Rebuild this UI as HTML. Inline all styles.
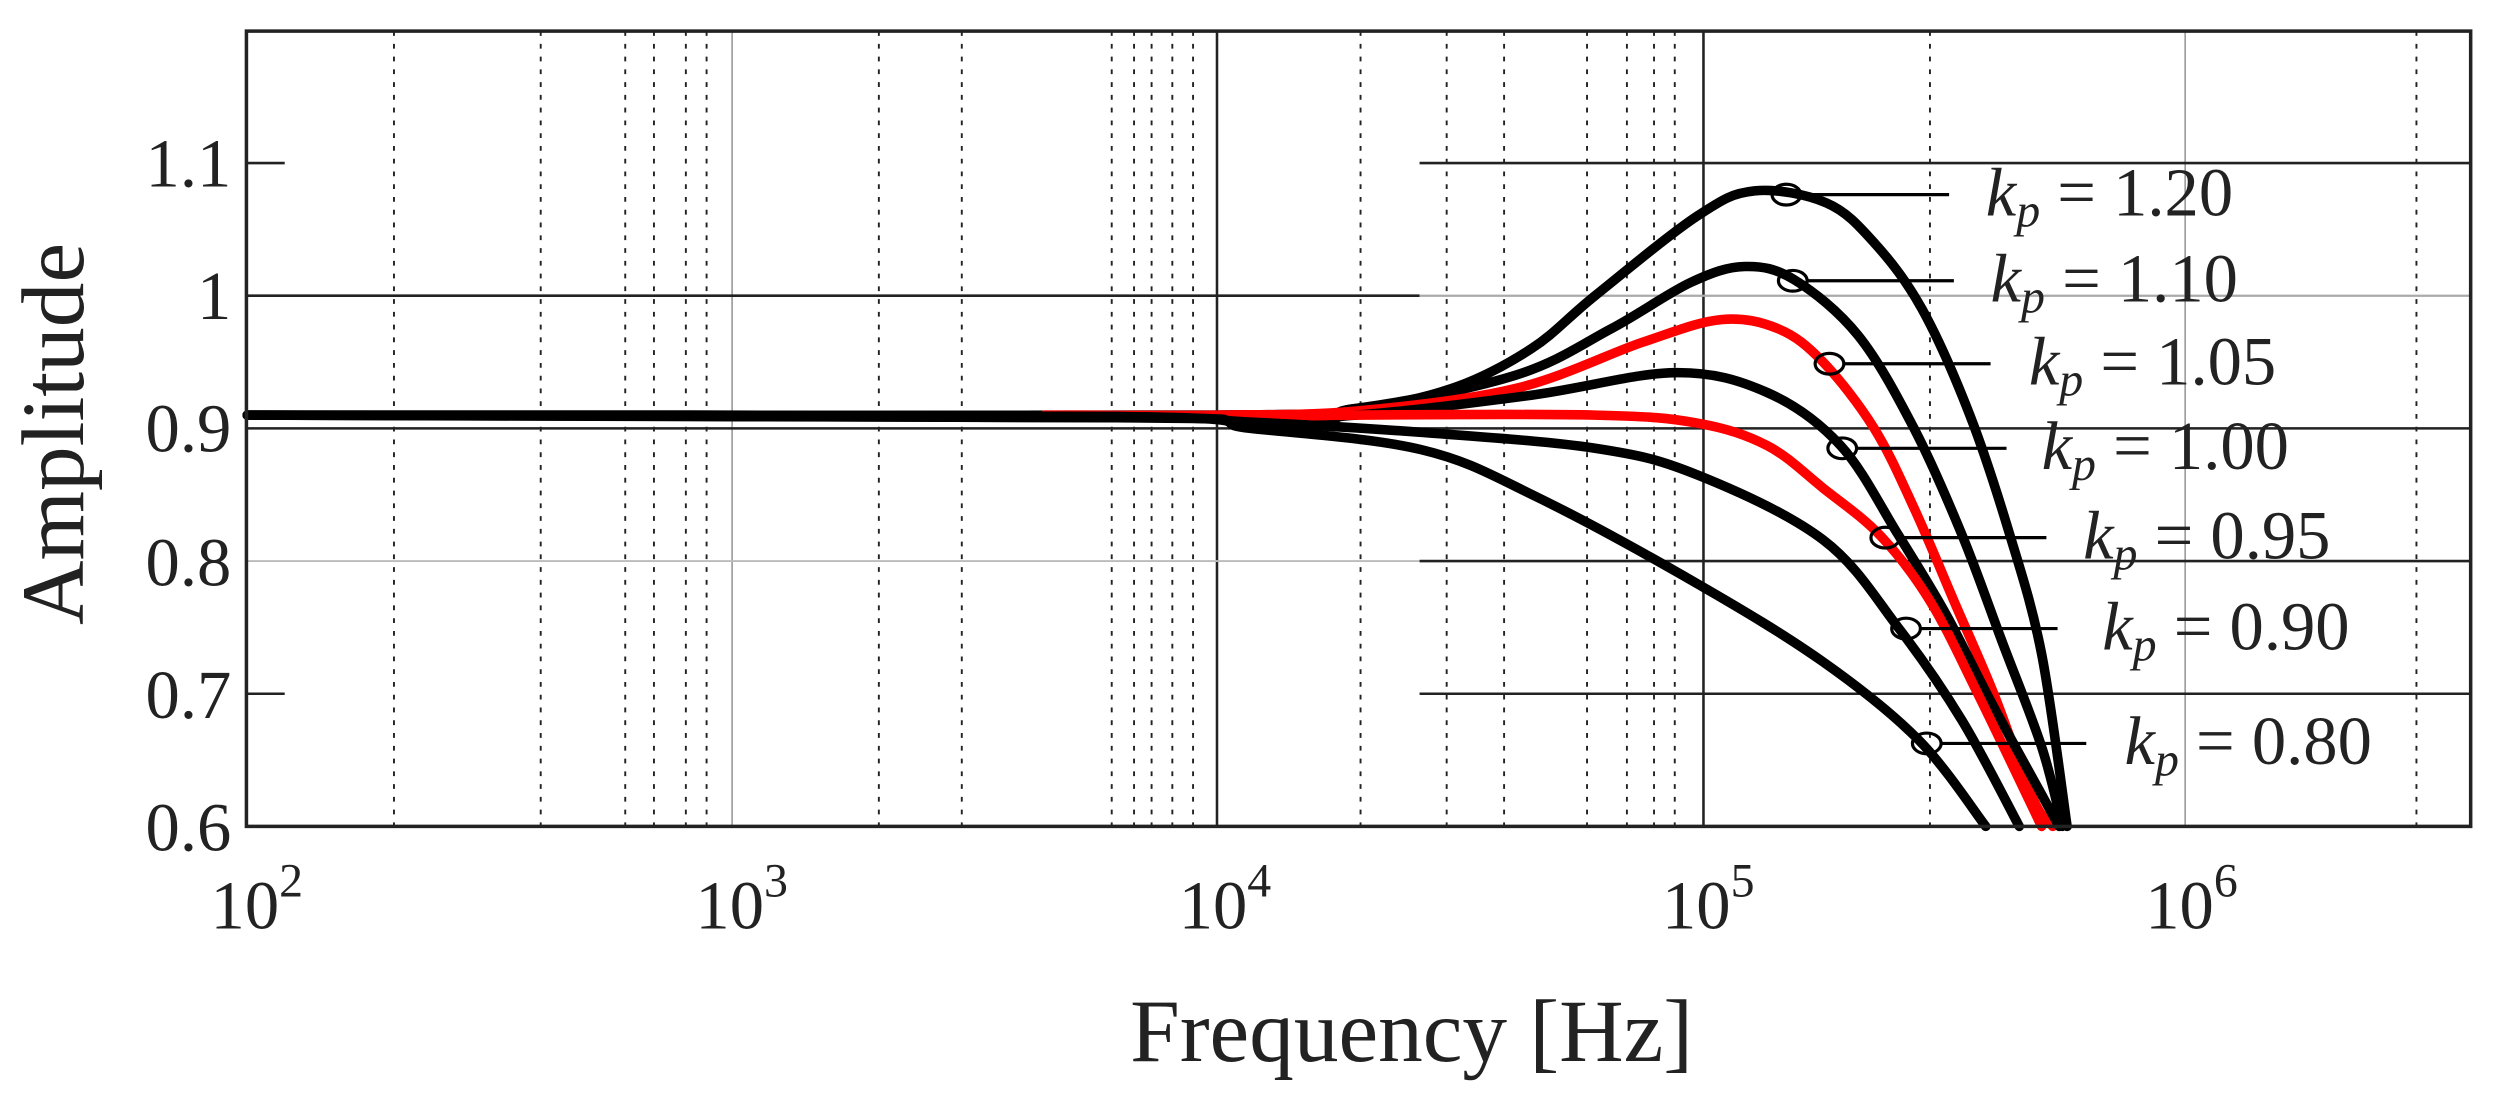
<!DOCTYPE html>
<html><head><meta charset="utf-8"><style>
html,body{margin:0;padding:0;background:#fff;width:2493px;height:1096px;overflow:hidden}
svg{display:block}
text{font-family:"Liberation Serif",serif;fill:#222}
</style></head><body>
<svg id="s" width="2493" height="1096" viewBox="0 0 1563 687" preserveAspectRatio="none" xmlns="http://www.w3.org/2000/svg">
<g id="grid" stroke="#222" fill="none"></g>
<g id="curves" fill="none" stroke-linecap="round" stroke-linejoin="round"></g>
<g id="marks" fill="none" stroke="#000" stroke-width="2"></g>
<rect x="154.5" y="19.5" width="1394.5" height="498.5" fill="none" stroke="#222" stroke-width="2.2"/>
<g font-size="43" text-anchor="end">
<text x="145" y="117">1.1</text>
<text x="145" y="200">1</text>
<text x="145" y="283">0.9</text>
<text x="145" y="367">0.8</text>
<text x="145" y="450">0.7</text>
<text x="145" y="533">0.6</text>
</g>
<g font-size="43">
<text x="132" y="582">10<tspan font-size="30" dy="-20">2</tspan></text>
<text x="436" y="582">10<tspan font-size="30" dy="-20">3</tspan></text>
<text x="739" y="582">10<tspan font-size="30" dy="-20">4</tspan></text>
<text x="1042" y="582">10<tspan font-size="30" dy="-20">5</tspan></text>
<text x="1345" y="582">10<tspan font-size="30" dy="-20">6</tspan></text>
</g>
<text x="885" y="665" font-size="56" text-anchor="middle">Frequency [Hz]</text>
<text transform="translate(52,272) rotate(-90)" font-size="56" text-anchor="middle">Amplitude</text>
<g id="labels" font-size="43" fill="#000"></g>
</svg>
<script>
var NS="http://www.w3.org/2000/svg";
function el(p,t,a){var e=document.createElementNS(NS,t);for(var k in a)e.setAttribute(k,a[k]);p.appendChild(e);return e;}
var L=154.5,R=1549,T=19.5,B=518;
function Y(a){return 518-(a-0.6)*831.6;}
var g=document.getElementById('grid');
[247,339,392,410,430,443,551,603,697,711,722,735,748,853,907,943,995,1020,1037,1050,1210,1515].forEach(function(x){
 el(g,'line',{x1:x,y1:T,x2:x,y2:B,'stroke-width':1.2,'stroke-dasharray':'3,5'});});
[[459,'#999',1],[763,'#222',1.6],[1068,'#222',1.6],[1370,'#999',1]].forEach(function(v){
 el(g,'line',{x1:v[0],y1:T,x2:v[0],y2:B,stroke:v[1],'stroke-width':v[2]});});
el(g,'line',{x1:890,y1:Y(1.1),x2:R,y2:Y(1.1),'stroke-width':1.6});
el(g,'line',{x1:L,y1:Y(1.0),x2:890,y2:Y(1.0),'stroke-width':1.6});
el(g,'line',{x1:890,y1:Y(1.0),x2:R,y2:Y(1.0),'stroke-width':1.4,stroke:'#aaa'});
el(g,'line',{x1:L,y1:Y(0.9),x2:R,y2:Y(0.9),'stroke-width':1.6});
el(g,'line',{x1:890,y1:Y(0.8),x2:R,y2:Y(0.8),'stroke-width':1.6});
el(g,'line',{x1:L,y1:Y(0.8),x2:890,y2:Y(0.8),'stroke-width':1.2,stroke:'#bbb'});
el(g,'line',{x1:890,y1:Y(0.7),x2:R,y2:Y(0.7),'stroke-width':1.6});
[1.1,0.7].forEach(function(a){el(g,'line',{x1:L,y1:Y(a),x2:L+24,y2:Y(a),'stroke-width':1.6});});
function path(pts){var P=pts.map(function(p){return [p[0],Y(p[1])];});
 var d='M'+P[0][0]+','+P[0][1];
 for(var i=0;i<P.length-1;i++){var p0=P[i-1]||P[i],p1=P[i],p2=P[i+1],p3=P[i+2]||p2;
  d+=' C'+(p1[0]+(p2[0]-p0[0])/6)+','+(p1[1]+(p2[1]-p0[1])/6)+' '+(p2[0]-(p3[0]-p1[0])/6)+','+(p2[1]-(p3[1]-p1[1])/6)+' '+p2[0]+','+p2[1];}
 return d;}
var C=[
['#000',[[155,.91],[763,.91],[850,.915],[910,.93],[960,.96],[1000,1.0],[1064,1.06],[1100,1.079],[1145,1.07],[1175,1.04],[1205,.99],[1235,.91],[1260,.82],[1280,.73],[1296,.6]]],
['#000',[[155,.91],[763,.91],[850,.915],[950,.94],[1010,.975],[1060,1.01],[1094,1.022],[1125,1.012],[1165,.97],[1200,.90],[1230,.82],[1255,.74],[1280,.66],[1293,.6]]],
['#f00',[[655,.91],[763,.91],[850,.913],[950,.93],[1030,.965],[1079,.982],[1115,.975],[1143,.95],[1175,.9],[1200,.84],[1225,.77],[1250,.70],[1275,.62],[1287,.6]]],
['#000',[[155,.91],[763,.908],[850,.91],[960,.925],[1050,.942],[1108,.927],[1154,.887],[1190,.82],[1220,.76],[1250,.69],[1291,.6]]],
['#f00',[[655,.91],[763,.908],[850,.91],[1000,.91],[1064,.904],[1108,.887],[1143,.855],[1179,.819],[1210,.77],[1240,.7],[1280,.6]]],
['#000',[[155,.91],[700,.908],[780,.905],[891,.897],[1000,.885],[1064,.865],[1143,.816],[1190,.75],[1230,.68],[1266,.6]]],
['#000',[[155,.91],[700,.909],[784,.9],[891,.884],[964,.848],[1064,.783],[1143,.724],[1203,.665],[1245,.6]]]];
var cg=document.getElementById('curves');
C.forEach(function(c){el(cg,'path',{d:path(c[1]),stroke:c[0],'stroke-width':6});});
var M=[[1120,122,1222,'1.20',1245],[1124,176,1225,'1.10',1248],[1147,228,1248,'1.05',1272],[1155,281,1258,'1.00',1280],[1182,337,1283,'0.95',1306],[1195,394,1290,'0.90',1318],[1208,466,1308,'0.80',1332]];
var mg=document.getElementById('marks'),lg=document.getElementById('labels');
M.forEach(function(m){el(mg,'ellipse',{cx:m[0],cy:m[1],rx:9,ry:6.5});
 el(mg,'line',{x1:m[0]+9,y1:m[1],x2:m[2],y2:m[1]});
 var t=el(lg,'text',{x:m[4],y:m[1]+13});
 t.innerHTML='<tspan font-style="italic">k</tspan><tspan font-style="italic" font-size="30" dy="7">p</tspan><tspan dy="-7"> = '+m[3]+'</tspan>';});
</script>
</body></html>
